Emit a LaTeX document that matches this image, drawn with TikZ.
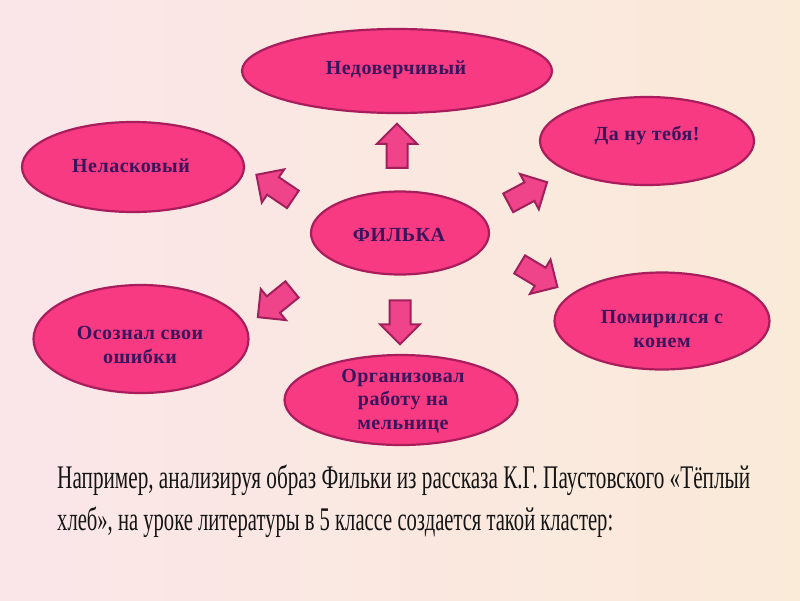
\documentclass[tikz,border=0pt]{standalone}
\usepackage{fontspec}
\usepackage{graphicx}
\setmainfont{Liberation Serif}
\newfontfamily\ovalfont[LetterSpace=2.5]{Liberation Serif}
\usetikzlibrary{shapes.geometric,shapes.arrows}
\definecolor{pinkfill}{RGB}{247,58,130}
\definecolor{pinkline}{RGB}{168,30,92}
\definecolor{txtpurple}{RGB}{58,20,92}
\definecolor{arrfill}{RGB}{240,68,138}
\definecolor{arrline}{RGB}{160,32,92}
\definecolor{bgleft}{RGB}{250,230,233}
\definecolor{bgright}{RGB}{250,234,216}
\tikzset{
  oval/.style={ellipse, draw=pinkline, fill=pinkfill, line width=2.2pt, inner sep=0pt},
  ovaltext/.style={text=txtpurple, font=\ovalfont\fontsize{20}{23.5}\selectfont\bfseries, align=center, inner sep=0pt},
  blockarr/.style={single arrow, draw=arrline, fill=arrfill, line width=2pt,
    minimum height=44pt, minimum width=38pt, inner xsep=0pt, inner ysep=9.5pt,
    single arrow head extend=9.5pt, single arrow tip angle=90, text height=0pt, text depth=0pt},
  caption/.style={anchor=base west, inner sep=0pt, text=black!92, font=\fontsize{33}{38}\selectfont}
}
\begin{document}
\begin{tikzpicture}[x=1pt,y=-1pt]
\useasboundingbox (0,0) rectangle (800,600);
\shade[left color=bgleft, right color=bgright] (0,0) rectangle (800,600);
% ellipses
\node[oval, minimum width=310pt, minimum height=84pt] (e1) at (397,71) {};
\node[oval, minimum width=222pt, minimum height=90pt] (e2) at (133,167) {};
\node[oval, minimum width=214pt, minimum height=88pt] (e3) at (647,141) {};
\node[oval, minimum width=178pt, minimum height=83pt] (e4) at (400,233) {};
\node[oval, minimum width=215pt, minimum height=108pt] (e5) at (141,339) {};
\node[oval, minimum width=233pt, minimum height=90pt] (e6) at (401,400) {};
\node[oval, minimum width=215pt, minimum height=97pt] (e7) at (662,321) {};
% texts
\node[ovaltext] (t1) at (396,70) {Недоверчивый};
\node[ovaltext] (t2) at (131,166) {Неласковый};
\node[ovaltext] (t3) at (647,135) {Да ну тебя!};
\node[ovaltext] (t4) at (399,235) {ФИЛЬКА};
\node[ovaltext] (t5) at (140,345) {Осознал свои\\ошибки};
\node[ovaltext] (t6) at (403,401) {Организовал\\работу на\\мельнице};
\node[ovaltext] (t7) at (662,329) {Помирился с\\конем};
% block arrows
\node[blockarr, rotate=90] (a1) at (397,151) {};
\node[blockarr, rotate=146] (a2) at (279,190) {};
\node[blockarr, rotate=28] (a3) at (523,195) {};
\node[blockarr, rotate=-31] (a4) at (534,273) {};
\node[blockarr, rotate=219] (a5) at (279,300) {};
\node[blockarr, rotate=-90] (a6) at (400,317) {};
% caption
\node[caption] (c1) at (57,488) {\resizebox{693pt}{\height}{Например, анализируя образ Фильки из рассказа К.Г. Паустовского «Тёплый}};
\node[caption] (c2) at (57,530) {\resizebox{556pt}{\height}{хлеб», на уроке литературы в 5 классе создается такой кластер:}};
\end{tikzpicture}
\end{document}
